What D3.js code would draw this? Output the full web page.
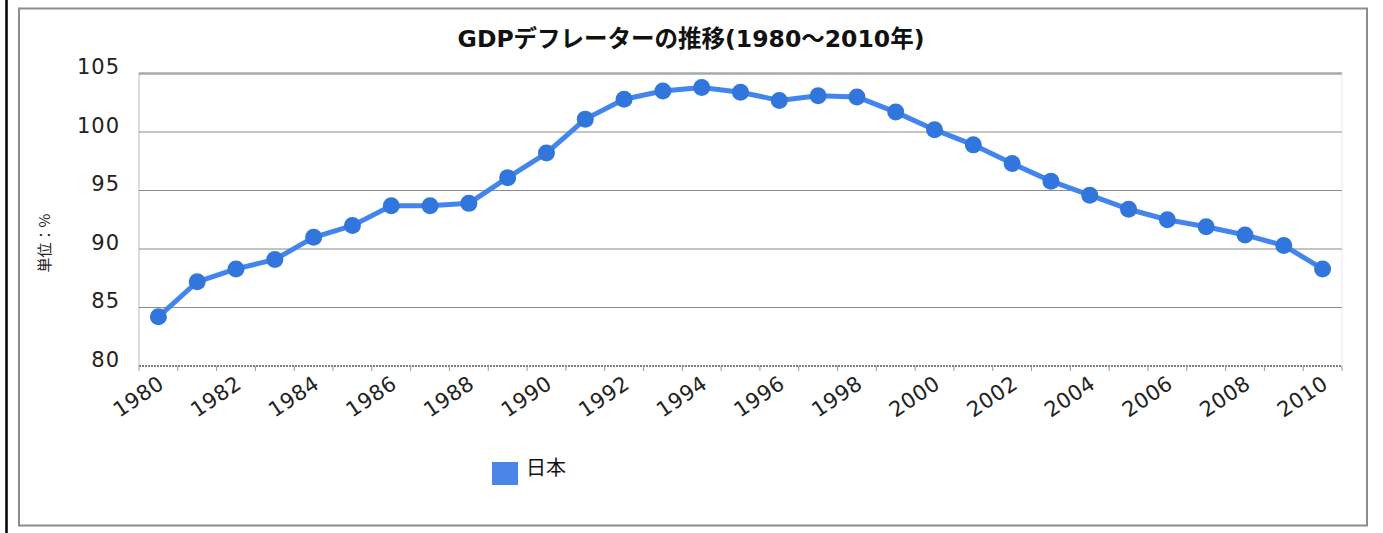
<!DOCTYPE html>
<html lang="ja">
<head>
<meta charset="utf-8">
<script src="https://cdn.jsdelivr.net/npm/d3@7"></script>
<style>
  html, body { margin: 0; padding: 0; background: #fff; }
  svg { display: block; }
</style>
</head>
<body>
<main></main>
<script>
"use strict";

//Chart data
const years = [
  1980, 1981, 1982, 1983, 1984, 1985, 1986, 1987, 1988, 1989, 1990,
  1991, 1992, 1993, 1994, 1995, 1996, 1997, 1998, 1999, 2000,
  2001, 2002, 2003, 2004, 2005, 2006, 2007, 2008, 2009, 2010,
];
const deflator = [
  84.2, 87.2, 88.3, 89.1, 91.0, 92.0, 93.7, 93.7, 93.9, 96.1, 98.2,
  101.1, 102.8, 103.5, 103.8, 103.4, 102.7, 103.1, 103.0, 101.7, 100.2,
  98.9, 97.3, 95.8, 94.6, 93.4, 92.5, 91.9, 91.2, 90.3, 88.3,
];
const yTicks = [80, 85, 90, 95, 100, 105];
const xLabels = [1980, 1982, 1984, 1986, 1988, 1990, 1992, 1994, 1996, 1998, 2000, 2002, 2004, 2006, 2008, 2010];
const seriesName = "日本";
const title = "GDPデフレーターの推移(1980～2010年)";
const yTitle = "単位：%";

//Dimmensions
const w = 1383;
const h = 533;
const plot = { left: 139, right: 1342, top: 73.5, bottom: 366 };
const blue = "#4285ec";
const font = "'DejaVu Sans', 'Noto Sans CJK JP', sans-serif";

const svg = d3.select("main").append("svg").attr("width", w).attr("height", h);

//Outer frame
svg.append("line").attr("x1", 6.5).attr("x2", 6.5).attr("y1", 0).attr("y2", h)
  .attr("stroke", "#000").attr("stroke-width", 2.5);
svg.append("rect").attr("x", 19).attr("y", 8.5).attr("width", 1348).attr("height", 517)
  .attr("fill", "none").attr("stroke", "#8c8c8c").attr("stroke-width", 2);

//Title
svg.append("text")
  .attr("x", 691).attr("y", 47)
  .attr("text-anchor", "middle")
  .attr("font-family", font).attr("font-weight", "bold").attr("font-size", 23.5)
  .attr("fill", "#111")
  .text(title);

//Scales
const x = d3.scaleBand().domain(years).range([plot.left, plot.right]);
const y = d3.scaleLinear().domain([80, 105]).range([plot.bottom, plot.top]);

//Grid lines
svg.append("g")
  .selectAll("line")
  .data(yTicks.filter((t) => t !== 80))
  .enter()
  .append("line")
  .attr("x1", plot.left).attr("x2", plot.right)
  .attr("y1", (d) => y(d)).attr("y2", (d) => y(d))
  .attr("stroke", (d) => (d === 105 ? "#a8a8a8" : "#8a8a8a"))
  .attr("stroke-width", (d) => (d === 105 ? 2.5 : 1.2));

//Left and right plot edges
svg.append("line").attr("x1", plot.left).attr("x2", plot.left).attr("y1", plot.top).attr("y2", plot.bottom)
  .attr("stroke", "#777").attr("stroke-dasharray", "1,1");
svg.append("line").attr("x1", plot.right).attr("x2", plot.right).attr("y1", plot.top).attr("y2", plot.bottom)
  .attr("stroke", "#d4d4d4").attr("stroke-dasharray", "1,1");

//y Axis labels
const yAxis = d3.axisLeft(y).tickValues(yTicks).tickSize(0).tickPadding(0);
svg.append("g")
  .attr("transform", "translate(120, 0)")
  .call(yAxis)
  .call((g) => g.select(".domain").remove())
  .call((g) => g.selectAll("text")
    .attr("dy", 0)
    .attr("font-family", font)
    .attr("font-size", 21)
    .attr("letter-spacing", 1)
    .attr("fill", "#222"));

//x Axis: ticks on band edges, labels every two years
const xAxisG = svg.append("g").attr("transform", `translate(0, ${plot.bottom})`);
xAxisG.append("line").attr("x1", plot.left).attr("x2", plot.right)
  .attr("stroke", "#555").attr("stroke-width", 1.5).attr("stroke-dasharray", "2,1");
xAxisG.selectAll(".tick")
  .data(years.concat([null]))
  .enter()
  .append("line")
  .attr("class", "tick")
  .attr("x1", (d) => (d === null ? plot.right : x(d)))
  .attr("x2", (d) => (d === null ? plot.right : x(d)))
  .attr("y1", 0).attr("y2", 5)
  .attr("stroke", "#999");
xAxisG.selectAll("text")
  .data(xLabels)
  .enter()
  .append("text")
  .attr("text-anchor", "end")
  .attr("transform", (d) => `translate(${x(d) + x.bandwidth() / 2 + 7}, 21) rotate(-34)`)
  .attr("font-family", font)
  .attr("font-size", 21)
  .attr("letter-spacing", 0.5)
  .attr("fill", "#222")
  .text((d) => d);

//y Axis title
svg.append("text")
  .attr("transform", "translate(50, 243) rotate(-90)")
  .attr("text-anchor", "middle")
  .attr("font-family", "'Noto Sans CJK JP', sans-serif")
  .attr("font-size", 15)
  .attr("fill", "#222")
  .text(yTitle);

//Line
const points = years.map((yr, i) => ({ year: yr, value: deflator[i] }));
const line = d3.line()
  .x((d) => x(d.year) + x.bandwidth() / 2)
  .y((d) => y(d.value));

svg.append("path")
  .datum(points)
  .attr("d", line)
  .attr("fill", "none")
  .attr("stroke", blue)
  .attr("stroke-width", 5)
  .attr("stroke-linejoin", "round");

svg.append("g")
  .selectAll("circle")
  .data(points)
  .enter()
  .append("circle")
  .attr("cx", (d) => x(d.year) + x.bandwidth() / 2)
  .attr("cy", (d) => y(d.value))
  .attr("r", 8.5)
  .attr("fill", "#3176dc");

//Legend
const legend = svg.append("g").attr("transform", "translate(492, 462)");
legend.append("rect").attr("width", 26).attr("height", 23).attr("fill", "#4a86e8");
legend.append("text")
  .attr("x", 34).attr("y", 13)
  .attr("font-family", "'Noto Sans CJK JP', sans-serif")
  .attr("font-size", 20)
  .attr("fill", "#111")
  .text(seriesName);
</script>
</body>
</html>
